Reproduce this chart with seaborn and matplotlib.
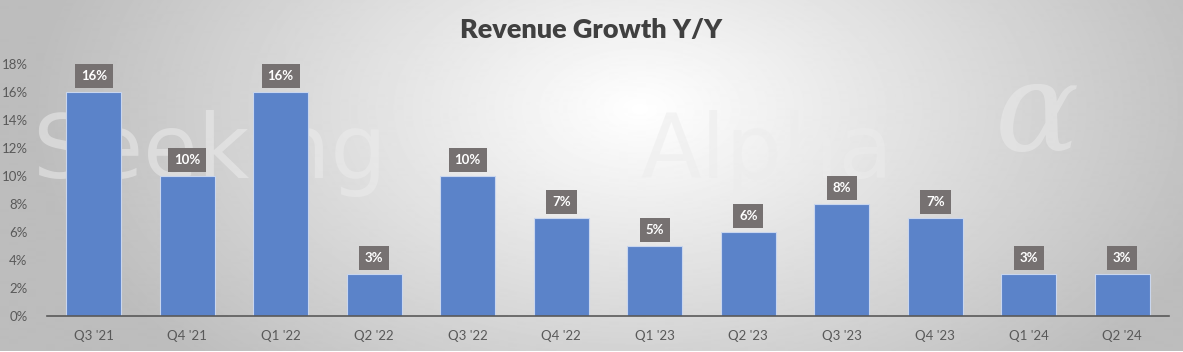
import numpy as np
import pandas as pd
import matplotlib.pyplot as plt
import seaborn as sns

# Data
quarters = ["Q3 '21", "Q4 '21", "Q1 '22", "Q2 '22", "Q3 '22", "Q4 '22",
            "Q1 '23", "Q2 '23", "Q3 '23", "Q4 '23", "Q1 '24", "Q2 '24"]
growth = [16, 10, 16, 3, 10, 7, 5, 6, 8, 7, 3, 3]
y_ticks = [0, 2, 4, 6, 8, 10, 12, 14, 16, 18]

df = pd.DataFrame({"quarter": quarters, "growth": growth})

sns.set_theme(style="white")
plt.rcParams['font.family'] = ['Lato', 'DejaVu Sans']

fig = plt.figure(figsize=(11.83, 3.52), dpi=100)

# Radial gradient background (light centre, grey edges)
bg = fig.add_axes([0, 0, 1, 1], zorder=0)
yy, xx = np.mgrid[0:352, 0:1183]
dist = np.sqrt(((xx - 640) / 700.0) ** 2 + ((yy - 110) / 420.0) ** 2)
shade = np.clip(1.0 - 0.30 * dist, 0.74, 1.0)
bg.imshow(shade, cmap='gray', vmin=0, vmax=1, aspect='auto', interpolation='bilinear')
bg.set_xlim(0, 1183)
bg.set_ylim(352, 0)
bg.axis('off')

# Faint watermark behind the bars
bg.text(32, 178, "Seeking", fontsize=64, color='#ececec', alpha=0.55,
        family='DejaVu Sans', va='baseline', ha='left')
bg.text(640, 178, "Alpha", fontsize=64, color='#ececec', alpha=0.55,
        family='DejaVu Sans', va='baseline', ha='left')
bg.text(995, 150, "\u03b1", fontsize=90, color='#ececec', alpha=0.5,
        family='DejaVu Serif', style='italic', va='baseline', ha='left')

ax = fig.add_axes([47 / 1183, 36 / 352, 1122 / 1183, 252 / 352], zorder=1)
ax.patch.set_alpha(0)

sns.barplot(data=df, x="quarter", y="growth", color="#5B83C9", saturation=1,
            width=0.59, edgecolor="#C9D6EE", linewidth=0.8, ax=ax)

for i, v in enumerate(growth):
    ax.annotate(f"{v}%", (i, v), xytext=(0, 11.5), textcoords='offset points',
                ha='center', va='center', fontsize=9.5, fontweight='bold',
                color='white',
                bbox=dict(boxstyle='square,pad=0.45', fc='#767171', ec='none'))

ax.set_ylim(0, 18)
ax.set_xlim(-0.5, len(quarters) - 0.5)
ax.set_yticks(y_ticks)
ax.set_yticklabels([f"{t}%" for t in y_ticks])
ax.set_xlabel("")
ax.set_ylabel("")
ax.tick_params(axis='both', colors='#595959', labelsize=9.5, length=0)
ax.tick_params(axis='x', pad=10)
ax.tick_params(axis='y', pad=14)
for side in ['top', 'right', 'left']:
    ax.spines[side].set_visible(False)
ax.spines['bottom'].set_color('#595959')
ax.spines['bottom'].set_linewidth(1.2)

fig.text(0.5, 0.915, "Revenue Growth Y/Y", ha='center', va='center',
         fontsize=19.5, fontweight='heavy', color='#404040')

fig.savefig("out.png", dpi=100)
